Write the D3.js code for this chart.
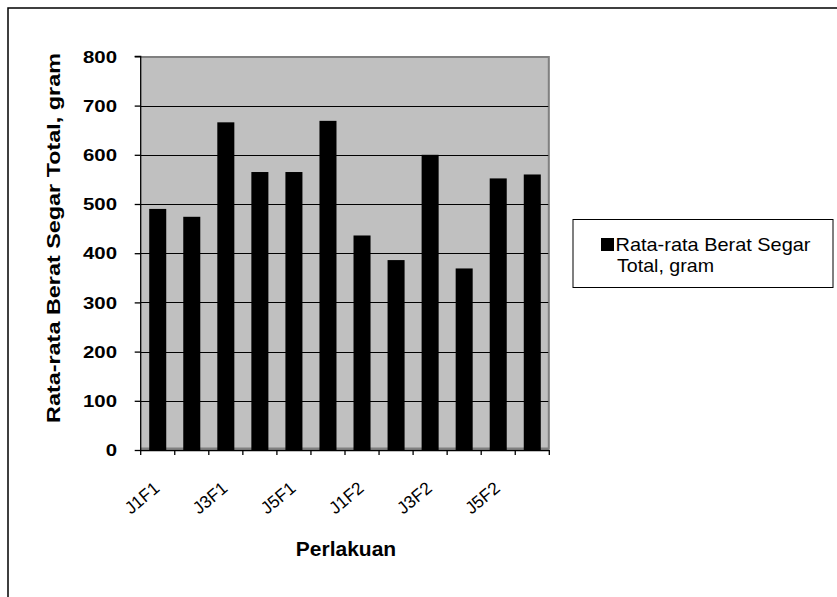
<!DOCTYPE html>
<html><head><meta charset="utf-8">
<script src="https://cdn.jsdelivr.net/npm/d3@7"></script>
<style>
html,body{margin:0;padding:0;background:#fff;}
text{font-family:"Liberation Sans",Arial,sans-serif;}
</style></head>
<body>
<svg id="chart" width="837" height="597"></svg>
<script>
const categories = ["J1F1","J2F1","J3F1","J4F1","J5F1","J6F1","J1F2","J2F2","J3F2","J4F2","J5F2","J6F2"];
const values = [490, 474, 666, 565, 565, 669, 436, 386, 600, 369, 552, 560];
const yTicks = [0,100,200,300,400,500,600,700,800];
const seriesName = "Rata-rata Berat Segar Total, gram";
const xTitle = "Perlakuan";

const svg = d3.select("#chart");
// outer frame
svg.append("rect").attr("x",8).attr("y",8).attr("width",900).attr("height",700)
  .attr("fill","#fff").attr("stroke","#000").attr("stroke-width",1.5);

const pLeft = 140.7, pRight = 549.3, pTop = 56.4, pBottom = 450;
const x = d3.scaleBand().domain(categories).range([pLeft,pRight]).paddingInner(0.5).paddingOuter(0.25);
const y = d3.scaleLinear().domain([0,800]).range([pBottom,pTop]);

// plot area
svg.append("rect").attr("x",pLeft).attr("y",pTop).attr("width",pRight-pLeft).attr("height",pBottom-pTop)
  .attr("fill","#c0c0c0");
svg.append("path").attr("d",`M${pLeft},${pTop+0.5}H${pRight-0.5}V${pBottom-1.5}H${pLeft}`)
  .attr("fill","none").attr("stroke","#808080").attr("stroke-width",2);

// gridlines
svg.append("g").selectAll("line").data(yTicks.filter(t=>t>0 && t<800)).join("line")
  .attr("x1",pLeft).attr("x2",pRight-1).attr("y1",d=>Math.round(y(d))+0.5).attr("y2",d=>Math.round(y(d))+0.5)
  .attr("stroke","#000").attr("stroke-width",1.2);

// bars
svg.append("g").selectAll("rect").data(values).join("rect")
  .attr("x",(d,i)=>x(categories[i])).attr("width",x.bandwidth())
  .attr("y",d=>y(d)).attr("height",d=>y(0)-y(d)).attr("fill","#000");

// y axis
const yAxis = d3.axisLeft(y).tickValues(yTicks).tickSize(6).tickFormat("");
const gy = svg.append("g").attr("transform",`translate(${pLeft},0)`).call(yAxis);
gy.selectAll("path,line").attr("stroke","#000").attr("stroke-width",1.3);
gy.select(".domain").attr("d",`M-6,${pTop}H0V${pBottom}`);
svg.append("g").selectAll("text").data(yTicks).join("text")
  .attr("transform",d=>`translate(117,${y(d)}) scale(1.2,1)`)
  .attr("text-anchor","end").attr("dy","0.36em")
  .attr("font-size",17).attr("font-weight","bold").text(d=>d);

// x axis
const boundaries = d3.range(categories.length+1).map(i=>pLeft + i*x.step());
svg.append("line").attr("x1",pLeft).attr("x2",pRight).attr("y1",pBottom+0.5).attr("y2",pBottom+0.5)
  .attr("stroke","#000").attr("stroke-width",1.3);
svg.append("g").selectAll("line").data(boundaries).join("line")
  .attr("x1",d=>d).attr("x2",d=>d).attr("y1",pBottom).attr("y2",pBottom+5)
  .attr("stroke","#000").attr("stroke-width",1.3);
svg.append("g").selectAll("text").data(categories.filter((c,i)=>i%2===0)).join("text")
  .attr("transform",d=>`translate(${x(d)+x.bandwidth()/2+3},490) rotate(-40)`)
  .attr("text-anchor","end").attr("font-size",17.5).text(d=>d);

// axis titles
svg.append("text").attr("transform","translate(60,238) rotate(-90)")
  .attr("text-anchor","middle").attr("font-size",18).attr("font-weight","bold")
  .attr("textLength",370).attr("lengthAdjust","spacingAndGlyphs").text(seriesName);
svg.append("text").attr("x",346).attr("y",556).attr("text-anchor","middle")
  .attr("font-size",21).attr("font-weight","bold").text(xTitle);

// legend
const lg = svg.append("g");
lg.append("rect").attr("x",573).attr("y",219.5).attr("width",260).attr("height",68)
  .attr("fill","#fff").attr("stroke","#000").attr("stroke-width",1);
lg.append("rect").attr("x",601).attr("y",238).attr("width",13).attr("height",13).attr("fill","#000");
lg.append("text").attr("x",615.5).attr("y",251).attr("font-size",18.5)
  .attr("textLength",195).attr("lengthAdjust","spacingAndGlyphs").text("Rata-rata Berat Segar");
lg.append("text").attr("x",617).attr("y",271.5).attr("font-size",18.5)
  .attr("textLength",97).attr("lengthAdjust","spacingAndGlyphs").text("Total, gram");
</script>
</body></html>
